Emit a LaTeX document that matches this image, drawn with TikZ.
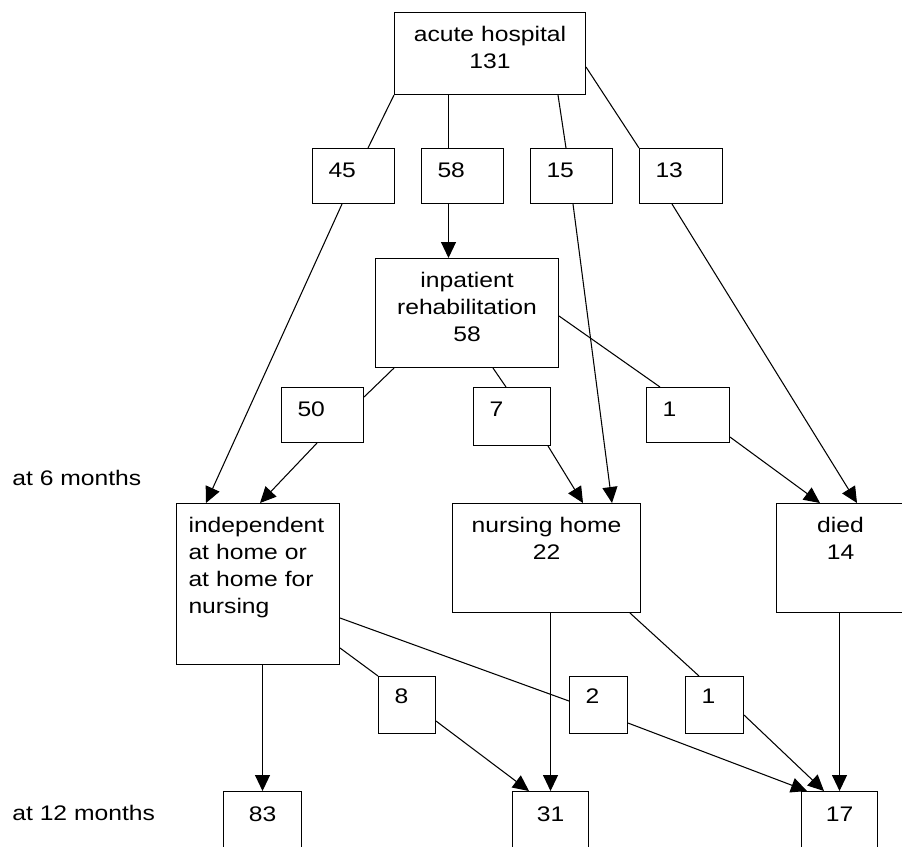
\documentclass[tikz,border=0pt]{standalone}
\usepackage{fontspec}
\setmainfont{Liberation Sans}[FakeStretch=1.17]
\usepackage{tikz}
\usetikzlibrary{arrows.meta,calc}

\begin{document}
\begin{tikzpicture}[x=0.02cm,y=-0.02cm,font=\fontsize{12}{15.4}\selectfont]
\useasboundingbox (0,0) rectangle (902,846);
\clip (0,0) rectangle (902,846);

\begin{scope}[every node/.style={draw,line width=0.6pt,anchor=north west,inner ysep=0pt,text height=0.58cm},
              big/.style={inner xsep=0pt,align=center},
              num/.style={inner xsep=0.32cm,align=left}]
    \node[big,text width=3.82cm,text depth=1.06cm] (Acute) at (394,12) {acute hospital\\131};
    \node[num,text width=1.0cm,text depth=0.52cm] (AcuteHome) at (312,148) {45};
    \node[num,text width=1.0cm,text depth=0.52cm] (AcuteRehab) at (421,148) {58};
    \node[num,text width=1.0cm,text depth=0.52cm] (AcuteNursing) at (530,148) {15};
    \node[num,text width=1.02cm,text depth=0.52cm] (AcuteDied) at (639,148) {13};
    \node[big,text width=3.66cm,text depth=1.60cm] (Rehab) at (375,258) {inpatient\\rehabilitation\\58};
    \node[num,text width=1.0cm,text depth=0.52cm] (RehabHome) at (281,387) {50};
    \node[num,text width=0.90cm,text depth=0.58cm] (RehabNursing) at (473,387) {7};
    \node[num,text width=1.02cm,text depth=0.52cm] (RehabDied) at (646,387) {1};
    \node[inner xsep=0.24cm,align=left,text width=2.78cm,text depth=2.64cm] (Indep) at (176,503)
        {independent\\at home or\\at home for\\nursing};
    \node[big,text width=3.76cm,text depth=1.60cm] (Nursing) at (452,503) {nursing home\\22};
    \node[big,text width=2.56cm,text depth=1.60cm] (Died) at (776,503) {died\\14};
    \node[num,text width=0.50cm,text height=0.54cm,text depth=0.60cm] (HomeNursing) at (378,676) {8};
    \node[num,text width=0.52cm,text height=0.54cm,text depth=0.60cm] (HomeDied) at (569,676) {2};
    \node[num,text width=0.52cm,text height=0.54cm,text depth=0.60cm] (NursingDied) at (685,676) {1};
    \node[big,text width=1.56cm,text height=0.6cm,text depth=1.4cm] (Home12) at (223,791) {83};
    \node[big,text width=1.52cm,text height=0.6cm,text depth=1.4cm] (Nursing12) at (512,791) {31};
    \node[big,text width=1.52cm,text height=0.6cm,text depth=1.4cm] (Died12) at (801,791) {17};
\end{scope}

\node[anchor=base west,inner sep=0pt] (SixMonths) at (12,485) {at 6 months};
\node[anchor=base west,inner sep=0pt] (TwelveMonths) at (12,820) {at 12 months};

\begin{scope}[>={Triangle[length=0.32cm,width=0.3cm]},
              every edge/.style={draw,line width=0.6pt}]
    \path (Acute.south west) edge ($(AcuteHome.north west)+(56,0)$);
    \path ($(Acute.south west)+(54.5,0)$) edge ($(AcuteRehab.north west)+(27.5,0)$);
    \path ($(Acute.south west)+(164,0)$) edge ($(AcuteNursing.north west)+(36,0)$);
    \path ($(Acute.north east)+(0,55)$) edge (AcuteDied.north west);
    \path [->] ($(AcuteHome.south west)+(30,0)$) edge ($(Indep.north west)+(30,0)$);
    \path [->] ($(AcuteRehab.south west)+(27.5,0)$) edge ($(Rehab.north west)+(73.5,0)$);
    \path [->] ($(AcuteNursing.south west)+(43,0)$) edge ($(Nursing.north west)+(160,0)$);
    \path [->] ($(AcuteDied.south west)+(33,0)$) edge ($(Died.north west)+(81,0)$);
    \path ($(Rehab.south west)+(19,0)$) edge ($(RehabHome.north east)+(0,10)$);
    \path ($(Rehab.south west)+(118,0)$) edge ($(RehabNursing.north west)+(33,0)$);
    \path ($(Rehab.north east)+(0,58)$) edge ($(RehabDied.north west)+(14,0)$);
    \path [->] ($(RehabHome.south west)+(36,0)$) edge ($(Indep.north west)+(84,0)$);
    \path [->] ($(RehabNursing.south east)+(-3,0)$) edge ($(Nursing.north west)+(131,0)$);
    \path [->] ($(RehabDied.south east)+(0,-6)$) edge ($(Died.north west)+(44,0)$);
    \path ($(Indep.north east)+(0,145)$) edge (HomeNursing.north west);
    \path ($(Indep.north east)+(0,115)$) edge ($(HomeDied.north west)+(0,25)$);
    \path ($(Nursing.south west)+(178,0)$) edge ($(NursingDied.north west)+(14,0)$);
    \path [->] (Indep.south -| Home12.north) edge (Home12.north);
    \path [->] (Nursing.south -| Nursing12.north) edge (Nursing12.north);
    \path [->] (Died.south -| Died12.north) edge (Died12.north);
    \path [->] ($(HomeNursing.south east)+(0,-13)$) edge ($(Nursing12.north west)+(17,0)$);
    \path [->] ($(HomeDied.south east)+(0,-11)$) edge ($(Died12.north west)+(6,0)$);
    \path [->] ($(NursingDied.south east)+(0,-19)$) edge ($(Died12.north west)+(23,0)$);
\end{scope}
\end{tikzpicture}
\end{document}
